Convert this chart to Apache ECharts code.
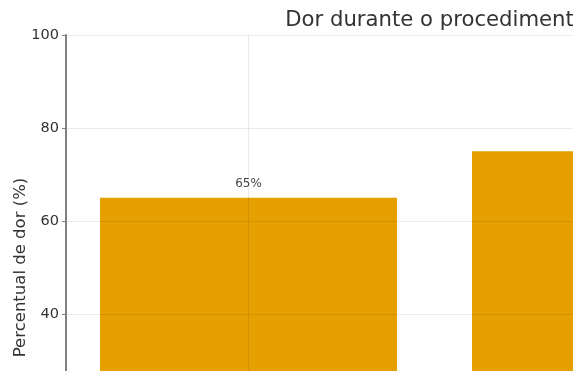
<!DOCTYPE html>
<html>
<head>
<meta charset="utf-8">
<script src="https://cdn.jsdelivr.net/npm/echarts@6/dist/echarts.min.js"></script>
<style>
  html, body { margin: 0; padding: 0; overflow: hidden; background: #fff; }
  #frame { position: absolute; left: 0; top: 0; width: 573px; height: 371px; overflow: hidden; }
  #main { position: absolute; left: 0; top: 0; width: 840px; height: 560px; }
</style>
</head>
<body>
<div id="frame"><div id="main"></div></div>
<script>
// Data (only the top-left part of the original figure is visible)
const categories = ['Grupo A', 'Grupo B'];
const painValues = [65, 75];
const yTicks = { min: 0, max: 100, step: 20 };

let myChart = echarts.init(document.getElementById('main'));

const font = 'DejaVu Sans';

let option = {
    backgroundColor: '#ffffff',
    animation: false,
    title: {
        text: 'Dor durante o procedimento',
        left: 431,
        top: 5,
        textAlign: 'center',
        textStyle: {
            fontFamily: font,
            fontSize: 21.2,
            fontWeight: 'normal',
            color: '#333333'
        }
    },
    grid: {
        left: 66,
        top: 35,
        width: 737,
        height: 465,
        outerBoundsMode: 'none',
        containLabel: false
    },
    xAxis: {
        type: 'value',
        // matplotlib-like margins around two bars of width 0.8
        min: -0.4906,
        max: 1.4906,
        axisLine: { show: false },
        axisTick: { show: false },
        axisLabel: { show: false },
        splitLine: { show: false }
    },
    yAxis: {
        type: 'value',
        min: yTicks.min,
        max: yTicks.max,
        interval: yTicks.step,
        z: 5,
        name: 'Percentual de dor (%)',
        nameLocation: 'middle',
        nameGap: 37,
        nameMoveOverlap: false,
        nameTextStyle: {
            fontFamily: font,
            fontSize: 16.5,
            color: '#333333'
        },
        axisLine: {
            show: true,
            onZero: false,
            lineStyle: { color: '#808080', width: 2 }
        },
        axisTick: {
            show: true,
            length: 4,
            lineStyle: { color: '#808080', width: 1 }
        },
        axisLabel: {
            fontFamily: font,
            fontSize: 14.5,
            color: '#333333',
            margin: 7
        },
        splitLine: {
            show: true,
            lineStyle: { color: 'rgba(0,0,0,0.08)', width: 1 }
        }
    },
    series: [
        {
            name: 'Dor',
            type: 'bar',
            barWidth: 297,
            itemStyle: { color: '#E69F00' },
            label: {
                show: true,
                position: 'top',
                distance: 8,
                fontFamily: font,
                fontSize: 12,
                color: '#444444',
                formatter: (p) => p.value[1] + '%'
            },
            data: categories.map((c, i) => ({ name: c, value: [i, painValues[i]] })),
            // vertical grid lines at the bar centres
            markLine: {
                silent: true,
                symbol: 'none',
                label: { show: false },
                lineStyle: { color: 'rgba(0,0,0,0.08)', width: 1, type: 'solid' },
                data: categories.map((c, i) => ({ xAxis: i }))
            }
        }
    ]
};

option && myChart.setOption(option);
</script>
</body>
</html>
